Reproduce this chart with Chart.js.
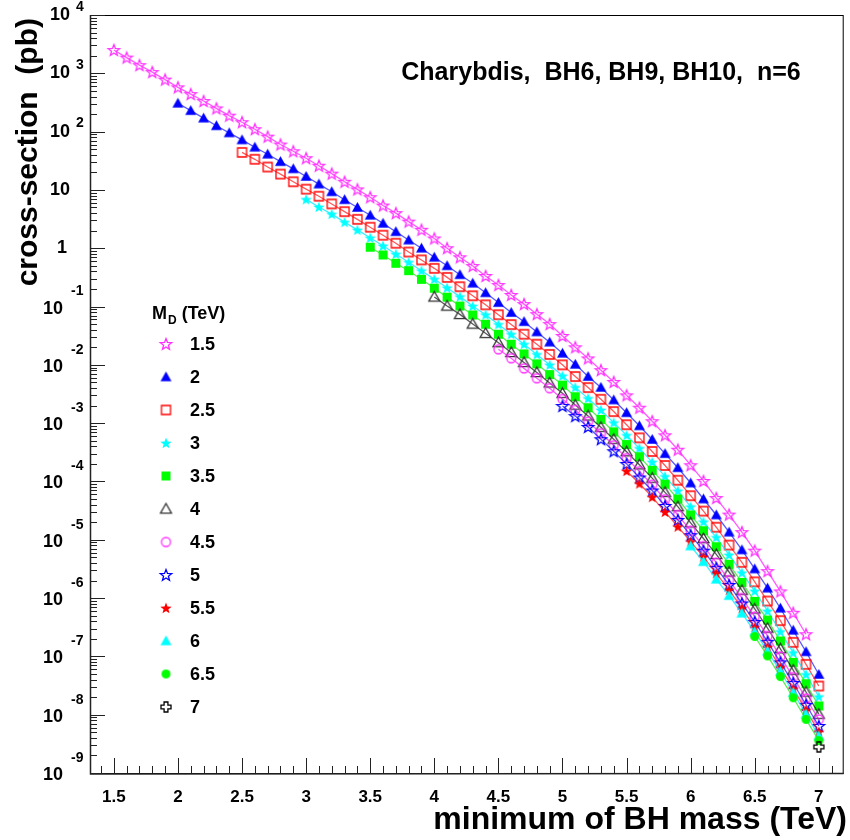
<!DOCTYPE html>
<html>
<head>
<meta charset="utf-8">
<title>BH cross-section vs minimum mass</title>
<script src="https://cdn.jsdelivr.net/npm/chart.js@4.4.1/dist/chart.umd.min.js"></script>
<style>
  html, body { margin: 0; padding: 0; background: #fff; }
  #wrap { width: 850px; height: 840px; }
</style>
</head>
<body>
<div id="wrap"><canvas id="xsec" width="850" height="840"></canvas></div>
<script>
// minimum BH mass grid (TeV)
const massGrid = [1.5, 1.6, 1.7, 1.8, 1.9, 2.0, 2.1, 2.2, 2.3, 2.4, 2.5, 2.6, 2.7, 2.8, 2.9,
  3.0, 3.1, 3.2, 3.3, 3.4, 3.5, 3.6, 3.7, 3.8, 3.9, 4.0, 4.1, 4.2, 4.3, 4.4, 4.5, 4.6, 4.7,
  4.8, 4.9, 5.0, 5.1, 5.2, 5.3, 5.4, 5.5, 5.6, 5.7, 5.8, 5.9, 6.0, 6.1, 6.2, 6.3, 6.4, 6.5,
  6.6, 6.7, 6.8, 6.9, 7.0];

// M_D values (TeV) and legend labels
const mdValues = [1.5, 2, 2.5, 3, 3.5, 4, 4.5, 5, 5.5, 6, 6.5, 7];
const mdLabels = ['1.5', '2', '2.5', '3', '3.5', '4', '4.5', '5', '5.5', '6', '6.5', '7'];

// cross-sections in pb, each series starts at min mass = M_D
const xsMD1p5 = [2510, 1860, 1380, 1050, 780, 575, 440, 335, 250, 188,
  145, 110, 82, 60, 46, 35, 26, 19, 13.8, 10.2,
  7.5, 5.4, 4.0, 2.86, 2.07, 1.47, 1.0, 0.70, 0.495, 0.334,
  0.234, 0.158, 0.11, 0.074, 0.050, 0.0313, 0.020, 0.0129, 8.1e-3, 5.1e-3,
  3.0e-3, 1.84e-3, 1.08e-3, 6.2e-4, 3.5e-4, 1.9e-4, 1.02e-4, 5.2e-5, 2.7e-5, 1.35e-5,
  6.5e-6, 2.9e-6, 1.3e-6, 5.6e-7, 2.4e-7];
const xsMD2 = [306, 229, 170, 126, 95, 72, 54, 41, 30.5, 23,
  17, 12.6, 9.3, 6.8, 5.0, 3.67, 2.67, 1.92, 1.38, 1.0,
  0.70, 0.50, 0.351, 0.251, 0.172, 0.117, 0.079, 0.055, 0.0367, 0.0245,
  0.0158, 0.0102, 6.3e-3, 4.1e-3, 2.5e-3, 1.51e-3, 9.0e-4, 5.25e-4, 3.0e-4, 1.72e-4,
  9.4e-5, 5.0e-5, 2.66e-5, 1.35e-5, 6.7e-6, 3.16e-6, 1.48e-6, 6.7e-7, 2.8e-7, 1.2e-7,
  4.9e-8];
const xsMD2p5 = [44, 33.5, 24.7, 18.7, 13.8, 10.3, 7.8, 5.75, 4.24, 3.13,
  2.29, 1.67, 1.22, 0.86, 0.63, 0.452, 0.316, 0.219, 0.153, 0.107,
  0.0724, 0.049, 0.0335, 0.0226, 0.0151, 0.0100, 6.3e-3, 4.07e-3, 2.57e-3, 1.58e-3,
  9.4e-4, 5.6e-4, 3.27e-4, 1.88e-4, 1.05e-4, 5.7e-5, 3.1e-5, 1.64e-5, 8.1e-6, 4.1e-6,
  1.9e-6, 8.9e-7, 4.1e-7, 1.74e-7, 7.3e-8, 3.1e-8];
const xsMD3 = [6.9, 5.1, 3.85, 2.8, 2.06, 1.51, 1.10, 0.794, 0.575, 0.412,
  0.295, 0.21, 0.148, 0.102, 0.0724, 0.0495, 0.0335, 0.0226, 0.0151, 0.0100,
  6.5e-3, 4.1e-3, 2.66e-3, 1.68e-3, 1.02e-3, 6.2e-4, 3.7e-4, 2.15e-4, 1.22e-4, 6.9e-5,
  3.7e-5, 2.04e-5, 1.1e-5, 5.5e-6, 2.72e-6, 1.32e-6, 6.0e-7, 2.66e-7, 1.16e-7, 4.9e-8,
  2.04e-8];
const xsMD3p5 = [1.04, 0.766, 0.552, 0.412, 0.293, 0.206, 0.145, 0.102, 0.0716, 0.0498,
  0.0335, 0.0226, 0.0154, 0.0104, 6.8e-3, 4.5e-3, 2.84e-3, 1.84e-3, 1.16e-3, 7.1e-4,
  4.3e-4, 2.66e-4, 1.55e-4, 9.0e-5, 5.0e-5, 2.66e-5, 1.43e-5, 7.6e-6, 3.8e-6, 1.86e-6,
  8.8e-7, 4.2e-7, 1.84e-7, 7.9e-8, 3.4e-8, 1.41e-8];
const xsMD4 = [0.146, 0.102, 0.0733, 0.0501, 0.0347, 0.024, 0.0163, 0.011, 7.4e-3, 4.9e-3,
  3.25e-3, 2.04e-3, 1.33e-3, 8.5e-4, 5.3e-4, 3.24e-4, 1.93e-4, 1.14e-4, 6.5e-5, 3.7e-5,
  1.95e-5, 1.05e-5, 5.6e-6, 2.8e-6, 1.36e-6, 6.5e-7, 3.05e-7, 1.35e-7, 5.8e-8, 2.45e-8,
  1.02e-8];
const xsMD4p5 = [0.0185, 0.013, 8.7e-3, 5.9e-3, 3.98e-3, 2.6e-3, 1.69e-3, 1.06e-3, 6.7e-4, 4.17e-4,
  2.51e-4, 1.5e-4, 8.8e-5, 4.95e-5, 2.66e-5, 1.43e-5, 7.8e-6, 4.05e-6, 2.04e-6, 1.0e-6,
  4.8e-7, 2.24e-7, 1.0e-7, 4.4e-8, 1.9e-8, 8.3e-9];
const xsMD5 = [1.97e-3, 1.32e-3, 8.6e-4, 5.3e-4, 3.3e-4, 2.0e-4, 1.17e-4, 7.0e-5, 3.8e-5, 2.19e-5,
  1.2e-5, 6.5e-6, 3.3e-6, 1.68e-6, 8.1e-7, 3.9e-7, 1.78e-7, 7.9e-8, 3.5e-8, 1.48e-8,
  6.4e-9];
const xsMD5p5 = [1.51e-4, 9.2e-5, 5.4e-5, 3.0e-5, 1.68e-5, 9.3e-6, 5.1e-6, 2.66e-6, 1.38e-6, 6.7e-7,
  3.16e-7, 1.45e-7, 6.5e-8, 2.8e-8, 1.2e-8, 5.1e-9];
const xsMD6 = [7.8e-6, 4.2e-6, 2.1e-6, 1.1e-6, 5.5e-7, 2.63e-7, 1.23e-7, 5.5e-8, 2.4e-8, 1.02e-8, 4.3e-9];
const xsMD6p5 = [2.19e-7, 1.02e-7, 4.5e-8, 1.95e-8, 8.3e-9, 3.6e-9];
const xsMD7 = [2.8e-9];

const xsSeries = [xsMD1p5, xsMD2, xsMD2p5, xsMD3, xsMD3p5, xsMD4, xsMD4p5, xsMD5, xsMD5p5, xsMD6, xsMD6p5, xsMD7];

// marker shape / colour for each M_D
const styles = [
  { shape: 'star', filled: false, color: '#ff30ff', line: 'rgba(255,0,255,0.65)' },
  { shape: 'triangle', filled: true, color: '#0000ff', line: 'rgba(0,0,255,0.65)' },
  { shape: 'square', filled: false, color: '#ff0000', line: 'rgba(255,0,0,0.65)' },
  { shape: 'star', filled: true, color: '#00ffff', line: 'rgba(0,230,255,0.75)' },
  { shape: 'square', filled: true, color: '#00ff00', line: 'rgba(0,230,0,0.65)' },
  { shape: 'triangle', filled: false, color: '#333333', line: 'rgba(0,0,0,0.65)' },
  { shape: 'circle', filled: false, color: '#ff30ff', line: 'rgba(255,0,255,0.65)' },
  { shape: 'star', filled: false, color: '#0000ff', line: 'rgba(0,0,255,0.65)' },
  { shape: 'star', filled: true, color: '#ff0000', line: 'rgba(255,0,0,0.65)' },
  { shape: 'triangle', filled: true, color: '#00ffff', line: 'rgba(0,230,255,0.75)' },
  { shape: 'circle', filled: true, color: '#00ff00', line: 'rgba(0,230,0,0.65)' },
  { shape: 'cross', filled: false, color: '#000000', line: 'rgba(0,0,0,0.65)' }
];

const FONT = '"Liberation Sans", Arial, Helvetica, sans-serif';

// ROOT-like marker drawn into a small canvas, used as pointStyle
function makeMarker(shape, color, filled) {
  const size = { star: 12, triangle: 11, square: 9, circle: 9, cross: 10 }[shape];
  const s = size + 4;
  const c = document.createElement('canvas');
  c.width = s; c.height = s;
  const g = c.getContext('2d');
  const m = s / 2, r = size / 2;
  g.strokeStyle = color;
  g.fillStyle = color;
  g.lineWidth = 1.3;
  g.beginPath();
  if (shape === 'star') {
    for (let i = 0; i < 10; i++) {
      const rr = i % 2 ? r * 0.42 : r;
      const ang = -Math.PI / 2 + i * Math.PI / 5;
      g.lineTo(m + rr * Math.cos(ang), m + 0.5 + rr * Math.sin(ang));
    }
    g.closePath();
  } else if (shape === 'triangle') {
    g.moveTo(m, m - r);
    g.lineTo(m + r, m + r * 0.75);
    g.lineTo(m - r, m + r * 0.75);
    g.closePath();
  } else if (shape === 'square') {
    g.rect(m - r, m - r, 2 * r, 2 * r);
  } else if (shape === 'circle') {
    g.arc(m, m, r, 0, Math.PI * 2);
  } else if (shape === 'cross') {
    const a = r / 2.6;
    const pts = [[-a, -r], [a, -r], [a, -a], [r, -a], [r, a], [a, a], [a, r], [-a, r], [-a, a], [-r, a], [-r, -a], [-a, -a]];
    pts.forEach(([px, py], i) => i ? g.lineTo(m + px, m + py) : g.moveTo(m + px, m + py));
    g.closePath();
  }
  if (filled) g.fill(); else g.stroke();
  return c;
}

const markers = styles.map(st => makeMarker(st.shape, st.color, st.filled));

const datasets = xsSeries.map((vals, k) => {
  const start = massGrid.indexOf(mdValues[k]);
  return {
    label: mdLabels[k],
    data: vals.map((v, i) => ({ x: massGrid[start + i], y: v })),
    showLine: true,
    borderColor: styles[k].line,
    borderWidth: 1.3,
    pointStyle: markers[k],
    pointRadius: 5,
    tension: 0,
    order: 12 - k
  };
});

// frame, inward ticks, 10^n labels, titles and legend in ROOT style
const rootDecor = {
  id: 'rootDecor',
  afterDraw(chart) {
    const { ctx, chartArea: a } = chart;
    const xs = chart.scales.x, ys = chart.scales.y;
    ctx.save();

    ctx.strokeStyle = '#000';
    ctx.lineWidth = 1;
    ctx.strokeRect(a.left + 0.5, a.top + 0.5, a.right - a.left - 1, a.bottom - a.top);
    ctx.beginPath();
    ctx.moveTo(a.left + 0.5, a.top); ctx.lineTo(a.left + 0.5, a.bottom + 1);
    ctx.lineTo(a.right, a.bottom + 0.5);
    ctx.lineWidth = 1.5;
    ctx.strokeStyle = '#222';
    ctx.stroke();

    // y ticks
    ctx.lineWidth = 1;
    ctx.strokeStyle = '#222';
    ctx.beginPath();
    for (let k = -9; k <= 4; k++) {
      const py = Math.round(ys.getPixelForValue(Math.pow(10, k))) + 0.5;
      ctx.moveTo(a.left, py); ctx.lineTo(a.left + 15, py);
      if (k < 4) {
        for (let mm = 2; mm <= 9; mm++) {
          const pm = Math.round(ys.getPixelForValue(mm * Math.pow(10, k))) + 0.5;
          ctx.moveTo(a.left, pm); ctx.lineTo(a.left + 7, pm);
        }
      }
    }
    // x ticks every 0.1 TeV
    for (let i = 14; i <= 71; i++) {
      const v = i / 10;
      if (v < xs.min || v > xs.max) continue;
      const px = Math.round(xs.getPixelForValue(v)) + 0.5;
      const len = i % 5 === 0 ? 15 : 7;
      ctx.moveTo(px, a.bottom); ctx.lineTo(px, a.bottom - len);
    }
    ctx.stroke();

    ctx.fillStyle = '#000';
    // x tick labels
    ctx.font = 'bold 17px ' + FONT;
    ctx.textAlign = 'center';
    ctx.textBaseline = 'middle';
    for (let i = 15; i <= 70; i += 5) {
      ctx.fillText(String(i / 10), xs.getPixelForValue(i / 10), 797);
    }

    // y tick labels: 1, 10, 10^n
    for (let k = -9; k <= 4; k++) {
      const py = ys.getPixelForValue(Math.pow(10, k));
      ctx.textBaseline = 'middle';
      if (k === 0) {
        ctx.font = 'bold 18px ' + FONT;
        ctx.textAlign = 'right';
        ctx.fillText('1', 67, py);
      } else if (k === 1) {
        ctx.font = 'bold 18px ' + FONT;
        ctx.textAlign = 'right';
        ctx.fillText('10', 70, py);
      } else if (k > 1) {
        ctx.font = 'bold 18px ' + FONT;
        ctx.textAlign = 'right';
        ctx.fillText('10', 70, py);
        ctx.font = 'bold 14px ' + FONT;
        ctx.textAlign = 'left';
        ctx.fillText(String(k), 76, py - 8);
      } else {
        ctx.font = 'bold 18px ' + FONT;
        ctx.textAlign = 'right';
        ctx.fillText('10', 63, py + 2);
        ctx.font = 'bold 14px ' + FONT;
        ctx.textAlign = 'left';
        ctx.fillText(String(k), 71, py - 15);
      }
    }

    // axis titles
    ctx.font = 'bold 32px ' + FONT;
    ctx.textAlign = 'right';
    ctx.textBaseline = 'alphabetic';
    ctx.fillText('minimum of BH mass (TeV)', 847, 829);

    ctx.save();
    ctx.translate(37, 18);
    ctx.rotate(-Math.PI / 2);
    ctx.font = 'bold 30px ' + FONT;
    ctx.textAlign = 'right';
    ctx.fillText('cross-section  (pb)', 0, 0);
    ctx.restore();

    // plot label
    ctx.font = 'bold 25px ' + FONT;
    ctx.textAlign = 'center';
    ctx.fillText('Charybdis,  BH6, BH9, BH10,  n=6', 601, 80);

    // legend
    ctx.textAlign = 'left';
    ctx.textBaseline = 'alphabetic';
    ctx.font = 'bold 18px ' + FONT;
    let hx = 152;
    ctx.fillText('M', hx, 319);
    hx += ctx.measureText('M').width;
    ctx.font = 'bold 12px ' + FONT;
    ctx.fillText('D', hx + 1, 324);
    hx += ctx.measureText('D').width + 1;
    ctx.font = 'bold 18px ' + FONT;
    ctx.fillText(' (TeV)', hx, 319);

    ctx.textBaseline = 'middle';
    mdLabels.forEach((lab, i) => {
      const ly = 344 + i * 33;
      const mk = markers[i];
      ctx.drawImage(mk, 166 - mk.width / 2, ly - mk.height / 2);
      ctx.fillText(lab, 190, ly + 1);
    });

    ctx.restore();
  }
};

new Chart(document.getElementById('xsec'), {
  type: 'scatter',
  data: { datasets },
  options: {
    responsive: false,
    animation: false,
    devicePixelRatio: 1,
    events: [],
    layout: { padding: { left: 90, right: 2, top: 15, bottom: 67 } },
    scales: {
      x: { type: 'linear', min: 1.314, max: 7.194, display: false },
      y: { type: 'logarithmic', min: 1e-9, max: 1e4, display: false }
    },
    plugins: { legend: { display: false }, tooltip: { enabled: false } }
  },
  plugins: [rootDecor]
});
</script>
</body>
</html>
